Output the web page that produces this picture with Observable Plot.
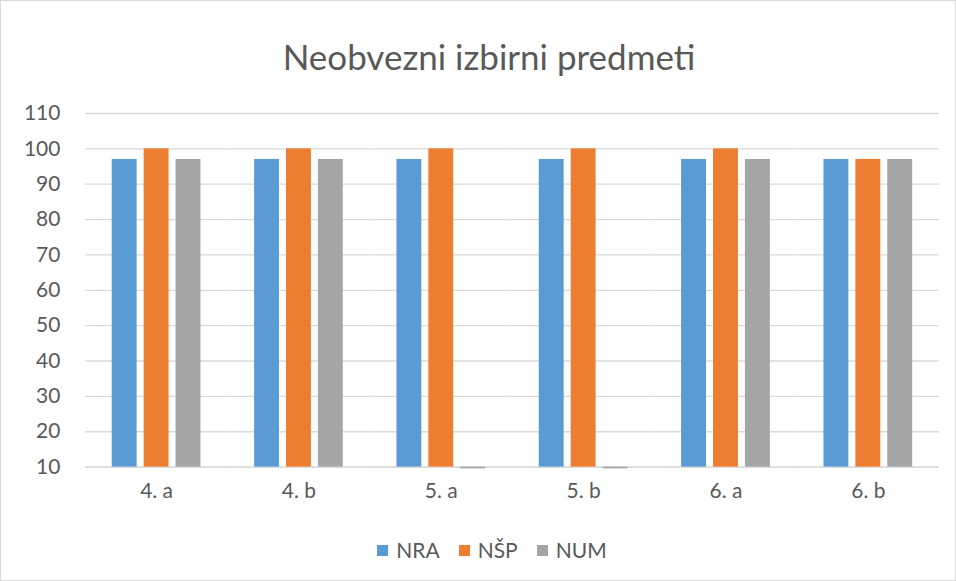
<!DOCTYPE html>
<html>
<head>
<meta charset="utf-8">
<script src="https://cdn.jsdelivr.net/npm/d3@7"></script>
<script src="https://cdn.jsdelivr.net/npm/@observablehq/plot@0.6"></script>
<style>
  html, body { margin: 0; padding: 0; background: #fff; }
  #chart { position: relative; width: 956px; height: 581px; box-sizing: border-box; border: 1px solid #d9d9d9; font-family: Lato, "Open Sans", sans-serif; color: #595959; overflow: hidden; }
  #title { position: absolute; top: 35px; left: 10px; width: 956px; text-align: center; font-size: 35px; line-height: 40px; color: #595959; }
  #plot { position: absolute; top: 94px; left: -1px; }
  #plot svg text { font-size: 21px; font-family: Lato, "Open Sans", sans-serif; }
  #legend { position: absolute; top: 537px; left: 0; width: 956px; display: flex; justify-content: center; gap: 19px; font-size: 21px; line-height: 24px; padding-left: 26px; box-sizing: border-box; }
  #legend span.item { display: flex; align-items: center; gap: 8px; }
  #legend span.sw { display: inline-block; width: 11px; height: 11px; }
</style>
</head>
<body>
<div id="chart">
  <div id="title">Neobvezni izbirni predmeti</div>
  <div id="plot"></div>
  <div id="legend"></div>
</div>
<script>
const categories = ["4. a", "4. b", "5. a", "5. b", "6. a", "6. b"];
const series = ["NRA", "NŠP", "NUM"];
const colors = ["#5B9BD5", "#ED7D31", "#A5A5A5"];
const NRA = [97, 97, 97, 97, 97, 97];
const NSP = [100, 100, 100, 100, 100, 97];
const NUM = [97, 97, 9.5, 9.5, 97, 97];
const yTicks = [10, 20, 30, 40, 50, 60, 70, 80, 90, 100, 110];

const values = [NRA, NSP, NUM];
const data = [];
categories.forEach((c, i) => {
  series.forEach((s, j) => data.push({cat: c, series: s, value: values[j][i]}));
});

const chart = Plot.plot({
  width: 956,
  height: 420,
  marginTop: 18,
  marginBottom: 48,
  marginLeft: 85,
  marginRight: 16,
  style: {fontFamily: "Lato, 'Open Sans', sans-serif", fontSize: "21px", color: "#595959", background: "transparent"},
  fx: {domain: categories, padding: 0, round: false, label: null},
  x: {domain: series, paddingInner: 0.22, paddingOuter: 0.84, round: false, axis: null},
  y: {domain: [10, 110], label: null},
  color: {domain: series, range: colors},
  marks: [
    Plot.gridY(yTicks, {stroke: "#d9d9d9", strokeOpacity: 1, strokeWidth: 1.3}),
    Plot.axisY(yTicks, {tickSize: 0, tickPadding: 25, label: null, fill: "#595959", fontSize: 21}),
    Plot.axisFx({anchor: "bottom", tickSize: 0, tickPadding: 16, label: null, fill: "#595959", fontSize: 21}),
    Plot.ruleY([10], {stroke: "#d9d9d9", strokeWidth: 1.3}),
    Plot.barY(data, {fx: "cat", x: "series", y1: 10, y2: "value", fill: "series"})
  ]
});
document.getElementById("plot").appendChild(chart);

const legend = document.getElementById("legend");
series.forEach((s, j) => {
  const item = document.createElement("span");
  item.className = "item";
  const sw = document.createElement("span");
  sw.className = "sw";
  sw.style.background = colors[j];
  item.appendChild(sw);
  item.appendChild(document.createTextNode(s));
  legend.appendChild(item);
});
</script>
</body>
</html>
